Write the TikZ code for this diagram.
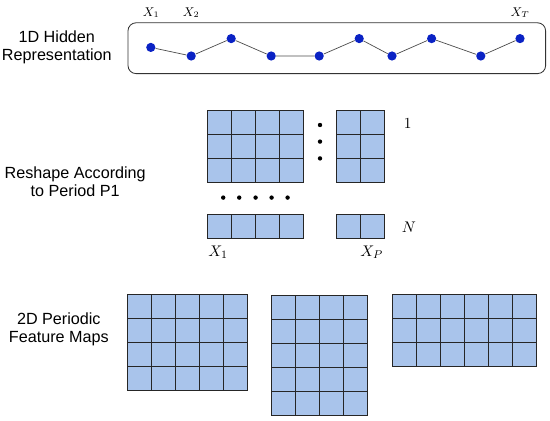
\documentclass[tikz,border=0pt]{standalone}
\usepackage{fontspec}
\setmainfont{Liberation Sans}
\usepackage{amsmath}
\usetikzlibrary{calc}

\definecolor{cellblue}{HTML}{A9C4EB}
\definecolor{ptblue}{HTML}{0A22C4}
\definecolor{boxgray}{HTML}{333333}

\tikzset{
  cell/.style={draw=black!85, fill=cellblue, line width=0.6pt},
  pt/.style={circle, fill=ptblue, inner sep=0pt, minimum size=0.23cm},
  smalldot/.style={circle, fill=black, inner sep=0pt, minimum size=0.11cm},
  sidelabel/.style={align=center, font=\fontsize{11.5}{12.8}\selectfont},
  toplabel/.style={font=\fontsize{8.7}{10}\selectfont},
  gridlabel/.style={font=\fontsize{11}{13}\selectfont},
}

% grid of cells: lower left x, lower left y, columns, rows
\newcommand{\cellgrid}[4]{
  \foreach \i in {1,...,#3}{
    \foreach \j in {1,...,#4}{
      \draw[cell] ({#1+0.6*(\i-1)},{#2+0.6*(\j-1)}) rectangle +(0.6,0.6);
    }
  }
}

\begin{document}
\begin{tikzpicture}
      \useasboundingbox (0,0) rectangle (13.75,10.5);

      % row labels
      \node (lhidden) at (1.42,9.31) [sidelabel] {1D Hidden\\Representation};
      \node (lreshape) at (1.88,5.95) [sidelabel] {Reshape According\\to Period P1};
      \node (lmaps) at (1.47,2.27) [sidelabel] {2D Periodic\\Feature Maps};

      % 1D hidden representation
      \node (hidden) at (8.42,9.295)
      [draw=boxgray, rounded corners=0.2cm, line width=0.6pt,
      minimum width=10.44cm, minimum height=1.27cm] {};

      \node (p1) at (3.77,9.315) [pt] {};
      \node (p2) at (4.78,9.10) [pt] {};
      \node (p3) at (5.78,9.535) [pt] {};
      \node (p4) at (6.78,9.10) [pt] {};
      \node (p5) at (7.98,9.10) [pt] {};
      \node (p6) at (8.98,9.535) [pt] {};
      \node (p7) at (9.80,9.10) [pt] {};
      \node (p8) at (10.79,9.535) [pt] {};
      \node (p9) at (12.02,9.10) [pt] {};
      \node (p10) at (13.0,9.535) [pt] {};

      \draw [black!70, line width=0.5pt] (p1) -- (p2) -- (p3) -- (p4) -- (p5)
      -- (p6) -- (p7) -- (p8) -- (p9) -- (p10);

      \node (x1) at (3.78,10.19) [toplabel] {$X_1$};
      \node (x2) at (4.78,10.19) [toplabel] {$X_2$};
      \node (xT) at (13.0,10.19) [toplabel] {$X_T$};

      % reshaped blocks
      \cellgrid{5.18}{5.95}{4}{3}
      \cellgrid{8.40}{5.95}{2}{3}
      \cellgrid{5.18}{4.54}{4}{1}
      \cellgrid{8.40}{4.54}{2}{1}

      \foreach \y [count=\k] in {7.375,6.96,6.54}
        \node (vdot\k) at (8.0,\y) [smalldot] {};
      \foreach \x [count=\k] in {5.58,5.98,6.39,6.79,7.19}
        \node (hdot\k) at (\x,5.56) [smalldot] {};

      \node (one) at (10.19,7.42) [gridlabel] {$1$};
      \node (rowN) at (10.22,4.83) [gridlabel] {$N$};
      \node (xa) at (5.45,4.2) [gridlabel] {$X_1$};
      \node (xP) at (9.29,4.2) [gridlabel] {$X_P$};

      % 2D periodic feature maps
      \cellgrid{3.18}{0.73}{5}{4}
      \cellgrid{6.79}{0.125}{4}{5}
      \cellgrid{9.81}{1.33}{6}{3}
\end{tikzpicture}
\end{document}
